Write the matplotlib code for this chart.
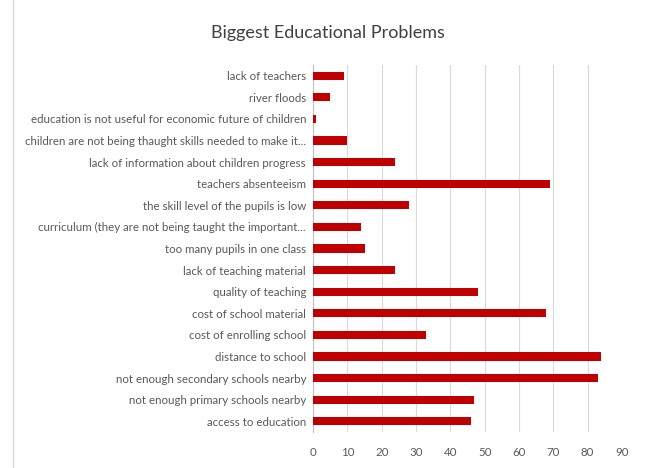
import matplotlib.pyplot as plt
from matplotlib.lines import Line2D

problems = [
    "lack of teachers",
    "river floods",
    "education is not useful for economic future of children",
    "children are not being thaught skills needed to make it...",
    "lack of information about children progress",
    "teachers absenteeism",
    "the skill level of the pupils is low",
    "curriculum (they are not being taught the important...",
    "too many pupils in one class",
    "lack of teaching material",
    "quality of teaching",
    "cost of school material",
    "cost of enrolling school",
    "distance to school",
    "not enough secondary schools nearby",
    "not enough primary schools nearby",
    "access to education",
]
counts = [9, 5, 1, 10, 24, 69, 28, 14, 15, 24, 48, 68, 33, 84, 83, 47, 46]
xticks = list(range(0, 91, 10))

plt.rcParams['font.family'] = ['Lato', 'DejaVu Sans']

fig = plt.figure(figsize=(6.45, 4.68), dpi=100)
ax = fig.add_axes([313 / 645, 1 - 432 / 468, (622 - 313) / 645, (432 - 65) / 468])

ypos = list(range(len(problems)))[::-1]
ax.barh(ypos, counts, height=0.38, color='#c00000', zorder=3)

ax.set_xlim(0, 90)
ax.set_ylim(-0.5, len(problems) - 0.5)
ax.set_xticks(xticks)
ax.set_yticks(ypos)
ax.set_yticklabels(problems)
ax.tick_params(axis='both', length=0, colors='#595959', labelsize=8.3)
ax.tick_params(axis='y', pad=5)
ax.tick_params(axis='x', pad=11)
ax.grid(axis='x', color='#d9d9d9', linewidth=0.8, zorder=0)
for s in ['top', 'right', 'bottom']:
    ax.spines[s].set_visible(False)
ax.spines['left'].set_color('#bfbfbf')
ax.spines['left'].set_linewidth(0.8)

fig.text(328 / 645, 1 - 33 / 468, "Biggest Educational Problems", ha='center', va='center',
         fontsize=13, color='#404040')

fig.add_artist(Line2D([13 / 645, 13 / 645], [0, 1], color='#d9d9d9', linewidth=1,
                      transform=fig.transFigure))

fig.savefig('out.png', dpi=100)
